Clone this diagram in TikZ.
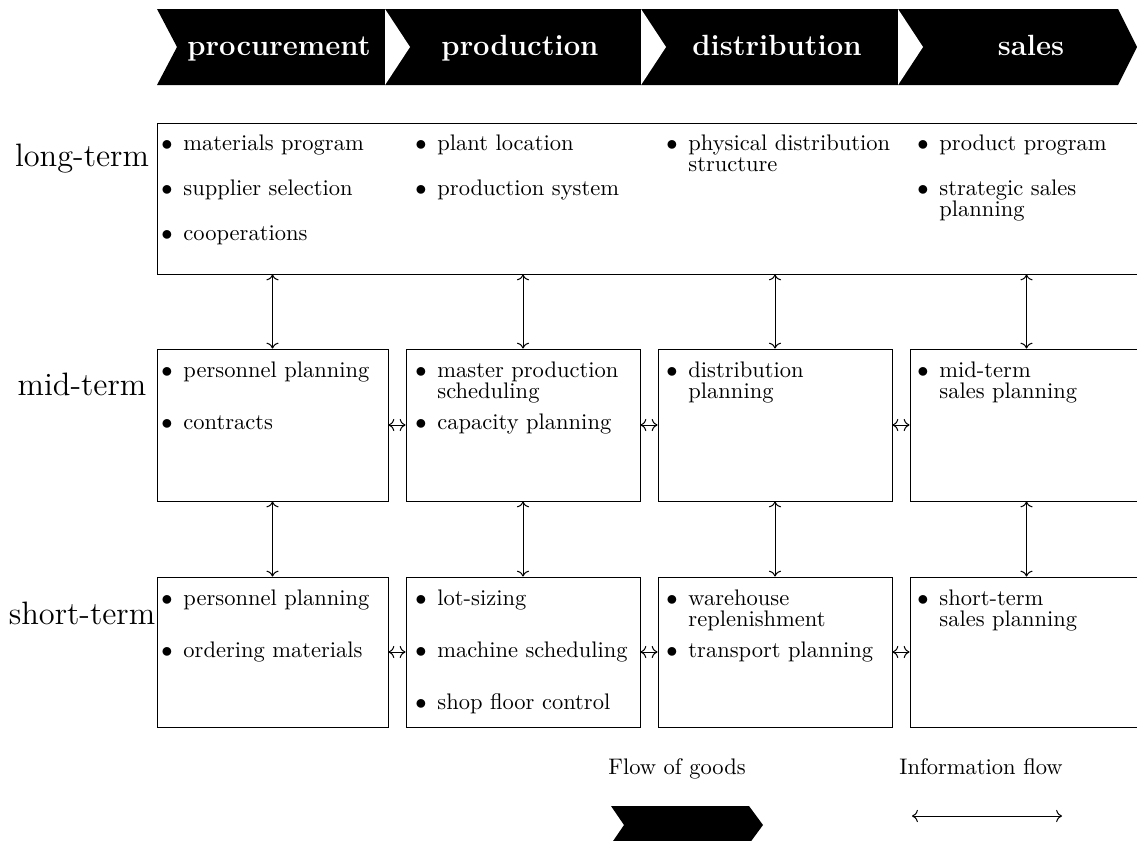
\documentclass[tikz,border=0pt]{standalone}
\usetikzlibrary{fit,arrows.meta}

% one item of a planning box: bullet plus its first line
\newcommand\putitem[4]{%
  \node[dot] (#1-dot) at ({#2-16},#3) {$\bullet$};
  \node[itemtext] (#1) at (#2,#3) {#4};}
% wrapped continuation line of an item
\newcommand\putmore[4]{%
  \node[itemtext] (#1) at (#2,{#3+21}) {#4};}

\begin{document}
\begin{tikzpicture}[x=0.4444pt,y=-0.4444pt,
  box/.style={draw, line width=0.4pt, inner sep=0pt},
  itemtext/.style={anchor=base west, inner sep=0pt, font=\normalsize},
  dot/.style={anchor=base, inner sep=0pt, font=\normalsize},
  rowlabel/.style={anchor=base, inner sep=0pt, font=\Large},
  phase/.style={anchor=base, inner sep=0pt, text=white,
                font=\fontsize{13}{15}\selectfont\bfseries},
  legendtext/.style={anchor=base, inner sep=0pt, font=\normalsize},
  flow/.style={{To[length=2.6pt,width=5.4pt]}-{To[length=2.6pt,width=5.4pt]}, line width=0.45pt},
]
\useasboundingbox (0,0) rectangle (1137,840);

% ---- value chain band ----
\fill[black] (157,9) -- (1118,9) -- (1137,47) -- (1118,85) -- (157,85) -- (177,47) -- cycle;
\foreach \sx in {385,641,898}
  \fill[white] (\sx,9) -- ({\sx+25},47) -- (\sx,85) -- cycle;
\node[phase] (procurement) at (279,55) {procurement};
\node[phase] (production) at (520,55) {production};
\node[phase] (distribution) at (777,55) {distribution};
\node[phase] (sales) at (1031,55) {sales};

% ---- planning horizons ----
\node[rowlabel] (longterm) at (82,166) {long-term};
\node[rowlabel] (midterm) at (82,395) {mid-term};
\node[rowlabel] (shortterm) at (82,624) {short-term};

% ---- boxes ----
\node[box, fit={(157,123) (1143,274)}] (lt) {};
\node[box, fit={(157,349) (388,501)}] (m1) {};
\node[box, fit={(406,349) (640,501)}] (m2) {};
\node[box, fit={(658,349) (892,501)}] (m3) {};
\node[box, fit={(910,349) (1143,501)}] (m4) {};
\node[box, fit={(157,577) (388,727)}] (s1) {};
\node[box, fit={(406,577) (640,727)}] (s2) {};
\node[box, fit={(658,577) (892,727)}] (s3) {};
\node[box, fit={(910,577) (1143,727)}] (s4) {};

% ---- long-term contents ----
\putitem{l1a}{183}{150}{materials program}
\putitem{l1b}{183}{195}{supplier selection}
\putitem{l1c}{183}{240}{cooperations}
\putitem{l2a}{437}{150}{plant location}
\putitem{l2b}{437}{195}{production system}
\putitem{l3a}{688}{150}{physical distribution}
\putmore{l3a2}{688}{150}{structure}
\putitem{l4a}{939}{150}{product program}
\putitem{l4b}{939}{195}{strategic sales}
\putmore{l4b2}{939}{195}{planning}

% ---- mid-term contents ----
\putitem{m1a}{183}{377}{personnel planning}
\putitem{m1b}{183}{429}{contracts}
\putitem{m2a}{437}{377}{master production}
\putmore{m2a2}{437}{377}{scheduling}
\putitem{m2b}{437}{429}{capacity planning}
\putitem{m3a}{688}{377}{distribution}
\putmore{m3a2}{688}{377}{planning}
\putitem{m4a}{939}{377}{mid-term}
\putmore{m4a2}{939}{377}{sales planning}

% ---- short-term contents ----
\putitem{s1a}{183}{605}{personnel planning}
\putitem{s1b}{183}{657}{ordering materials}
\putitem{s2a}{437}{605}{lot-sizing}
\putitem{s2b}{437}{657}{machine scheduling}
\putitem{s2c}{437}{709}{shop floor control}
\putitem{s3a}{688}{605}{warehouse}
\putmore{s3a2}{688}{605}{replenishment}
\putitem{s3b}{688}{657}{transport planning}
\putitem{s4a}{939}{605}{short-term}
\putmore{s4a2}{939}{605}{sales planning}

% ---- information flows ----
\foreach \c in {1,2,3,4} {
  \draw[flow] (lt.south -| m\c.north) -- (m\c.north);
  \draw[flow] (m\c.south) -- (s\c.north);
}
\foreach \a/\b in {1/2,2/3,3/4} {
  \draw[flow] (m\a.east) -- (m\b.west);
  \draw[flow] (s\a.east) -- (s\b.west);
}

% ---- legend ----
\node[legendtext] (goods) at (677,774) {Flow of goods};
\node[legendtext] (info) at (981,774) {Information flow};
\fill[black] (611,806) -- (749,806) -- (763,825) -- (749,844) -- (611,844) -- (624,825) -- cycle;
\coordinate (infoL) at (912,816);
\coordinate (infoR) at (1062,816);
\draw[flow] (infoL) -- (infoR);
\end{tikzpicture}
\end{document}
